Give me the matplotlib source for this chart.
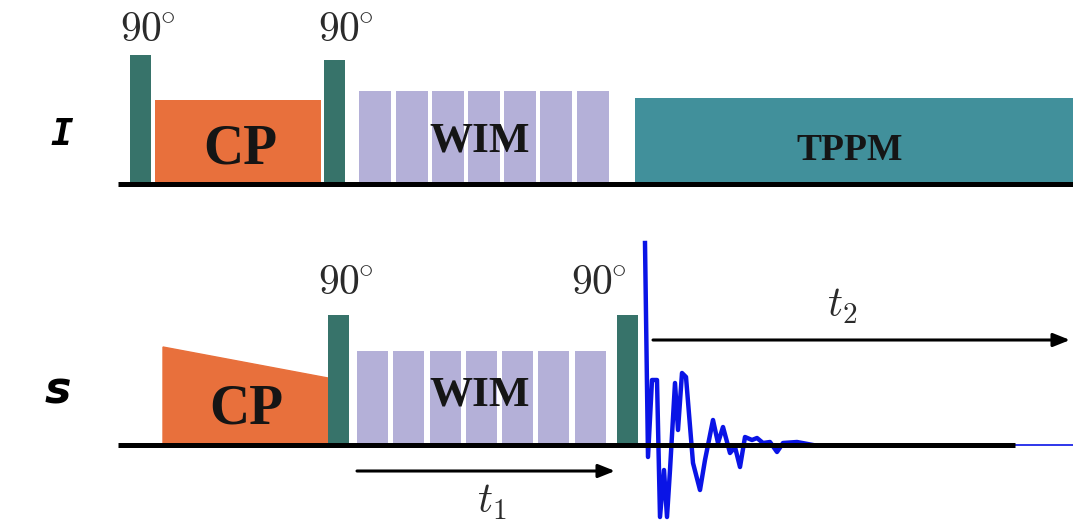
import matplotlib
matplotlib.use('Agg')
import matplotlib.pyplot as plt
from matplotlib.patches import Polygon

plt.rcParams['mathtext.fontset'] = 'cm'

# Couleurs des impulsions
c_pulse = '#37736a'
c_cp = '#e8703c'
c_wim = '#b4b0d8'
c_tppm = '#41909b'

# Canal I (proton) : positions en temps et amplitudes
I_p90_start = [130, 324]
I_p90_height = [129, 124]
I_cp_range = [155, 321]
I_cp_height = 84
I_wim_start = [359, 396, 432, 468, 504, 540, 577]
I_wim_height = 93
I_tppm_range = [635, 1080]
I_tppm_height = 86

# Canal S
S_cp_range = [163, 328]
S_cp_height = [98, 67]
S_p90_start = [328, 617]
S_p90_height = 130
S_wim_start = [357, 393, 430, 466, 502, 538, 575]
S_wim_height = 94

# Signal FID (décroissance)
fid_t = [645, 648, 652, 657, 660, 664, 667, 670, 675, 678, 682, 686, 693, 700,
         705, 713, 718, 723, 730, 735, 740, 745, 752, 757, 763, 770, 777, 783,
         797, 813]
fid_amp = [202, -12, 65, 65, -72, -25, -72, -25, 62, 15, 72, 68, -18, -45,
           -15, 25, 2, 18, -8, -2, -22, 8, 5, 7, 2, 3, -7, 2, 3, 0]

fig = plt.figure(figsize=(10.73, 5.25), dpi=100)
W, H = 1073, 525

# Axe du haut : lignes 0..200 px, axe du bas : lignes 225..525 px
ax_i = fig.add_axes([0, (H - 200) / H, 1, 200 / H])
ax_i.set_xlim(0, W)
ax_i.set_ylim(-16, 184)
ax_s = fig.add_axes([0, 0, 1, 300 / H])
ax_s.set_xlim(0, W)
ax_s.set_ylim(-80, 220)
for ax in (ax_i, ax_s):
    ax.axis('off')

serif_bold = dict(family='Liberation Serif', fontweight='bold', color='#151515')
deg = r'$90^{\!\!\circ}$'

# ---- Canal I ----
ax_i.bar(I_p90_start, I_p90_height, width=21, align='edge', color=c_pulse, zorder=3)
ax_i.bar(I_cp_range[0], I_cp_height, width=I_cp_range[1] - I_cp_range[0],
         align='edge', color=c_cp, zorder=2)
ax_i.bar(I_wim_start, I_wim_height, width=32, align='edge', color=c_wim, zorder=2)
ax_i.bar(I_tppm_range[0], I_tppm_height, width=I_tppm_range[1] - I_tppm_range[0],
         align='edge', color=c_tppm, zorder=2)
ax_i.plot([118, 1080], [0, 0], color='black', lw=3.6, zorder=4, solid_capstyle='butt')

for x in [147, 345]:
    ax_i.text(x, 142, deg, fontsize=30, ha='center', va='baseline', color='#2a2a2a')
ax_i.text(240, 21, 'CP', fontsize=40, ha='center', va='baseline', zorder=5, **serif_bold)
ax_i.text(480, 32, 'WIM', fontsize=31, ha='center', va='baseline', zorder=5, **serif_bold)
ax_i.text(850, 24, 'TPPM', fontsize=27, ha='center', va='baseline', zorder=5, **serif_bold)
ax_i.text(62, 39, 'I', fontsize=27, ha='center', va='baseline',
          family='DejaVu Sans Mono', fontweight='bold', style='oblique')

# ---- Canal S ----
cp_poly = Polygon([(S_cp_range[0], 0), (S_cp_range[0], S_cp_height[0]),
                   (S_cp_range[1], S_cp_height[1]), (S_cp_range[1], 0)],
                  closed=True, color=c_cp, zorder=2)
ax_s.add_patch(cp_poly)
ax_s.bar(S_p90_start, S_p90_height, width=21, align='edge', color=c_pulse, zorder=3)
ax_s.bar(S_wim_start, S_wim_height, width=31, align='edge', color=c_wim, zorder=2)

ax_s.plot(fid_t, fid_amp, color='#0a14e6', lw=3.2, zorder=3)
ax_s.plot([fid_t[-1], 1080], [0, 0], color='#0a14e6', lw=1.2, zorder=3)
ax_s.plot([118, 1015], [0, 0], color='black', lw=3.6, zorder=4, solid_capstyle='butt')

for x in [345, 598]:
    ax_s.text(x, 150, deg, fontsize=30, ha='center', va='baseline', color='#2a2a2a')
ax_s.text(246, 22, 'CP', fontsize=40, ha='center', va='baseline', zorder=5, **serif_bold)
ax_s.text(480, 40, 'WIM', fontsize=31, ha='center', va='baseline', zorder=5, **serif_bold)
ax_s.text(58, 42, 's', fontsize=32, ha='center', va='baseline',
          family='DejaVu Sans', fontweight='bold', style='oblique')

# Flèches des temps t1 et t2
arrow = dict(arrowstyle='-|>,head_length=1.0,head_width=0.4', color='black', lw=2.2,
             shrinkA=0, shrinkB=0)
ax_s.annotate('', xy=(615, -26), xytext=(357, -26), arrowprops=arrow)
ax_s.annotate('', xy=(1070, 105), xytext=(653, 105), arrowprops=arrow)
ax_s.text(492, -68, r'$t_1$', fontsize=30, ha='center', va='baseline', color='#2a2a2a')
ax_s.text(842, 128, r'$t_2$', fontsize=30, ha='center', va='baseline', color='#2a2a2a')

fig.savefig('out.png', dpi=100)
